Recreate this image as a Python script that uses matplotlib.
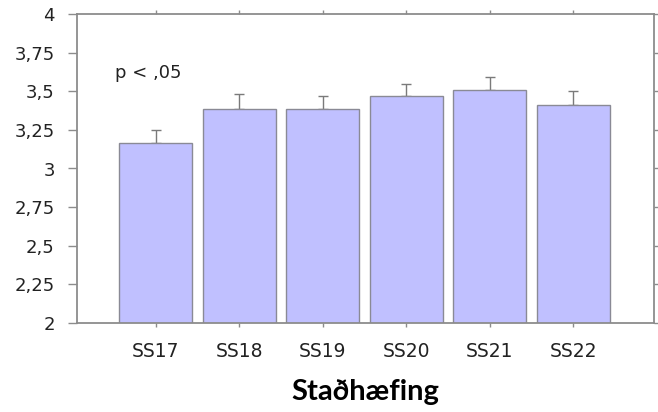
import matplotlib
matplotlib.use("Agg")
import matplotlib.pyplot as plt
import numpy as np

# Mean agreement per statement with upper error
categories = ["SS17", "SS18", "SS19", "SS20", "SS21", "SS22"]
means = [3.165, 3.388, 3.388, 3.47, 3.51, 3.41]
errors = [0.082, 0.097, 0.079, 0.08, 0.085, 0.09]
y_ticks = [2, 2.25, 2.5, 2.75, 3, 3.25, 3.5, 3.75, 4]
y_labels = ["2", "2,25", "2,5", "2,75", "3", "3,25", "3,5", "3,75", "4"]

edge = "#8a8a95"
fig = plt.figure(figsize=(6.58, 4.12), dpi=100)
ax = fig.add_axes([77 / 658, 1 - 322.7 / 412, (654 - 77) / 658, 308.4 / 412])

x = np.arange(len(categories))
ax.bar(x, means, width=0.875, color="#c0c0ff", edgecolor=edge, linewidth=1.0, zorder=2)
ax.errorbar(x, means, yerr=[np.zeros(len(errors)), errors], fmt="none",
            ecolor="#7a7a7a", elinewidth=1.0, capsize=3.3, capthick=1.0, zorder=1)

ax.set_xlim(-0.944, 5.966)
ax.set_ylim(2, 4)
ax.set_yticks(y_ticks)
ax.set_yticklabels(y_labels)
ax.set_xticks(x)
ax.set_xticklabels(categories)

for s in ax.spines.values():
    s.set_color("#8c8c8c")
    s.set_linewidth(1.3)

ax.tick_params(axis="y", which="both", direction="out", length=6.5, width=1.0,
               color="#8c8c8c", labelsize=13, pad=9.5, right=True)
ax.tick_params(axis="x", direction="out", length=3, width=1.0, color="#8c8c8c",
               labelsize=13.5, pad=11, top=True)
for lab in ax.get_xticklabels() + ax.get_yticklabels():
    lab.set_color("#222222")

ax.text(0.066, 0.811, "p < ,05", transform=ax.transAxes, fontsize=13,
        ha="left", va="center", color="#222222")

ax.set_xlabel("Staðhæfing", fontsize=21, fontweight="bold", family="Lato",
              labelpad=13)

fig.savefig("out.png", dpi=100)
